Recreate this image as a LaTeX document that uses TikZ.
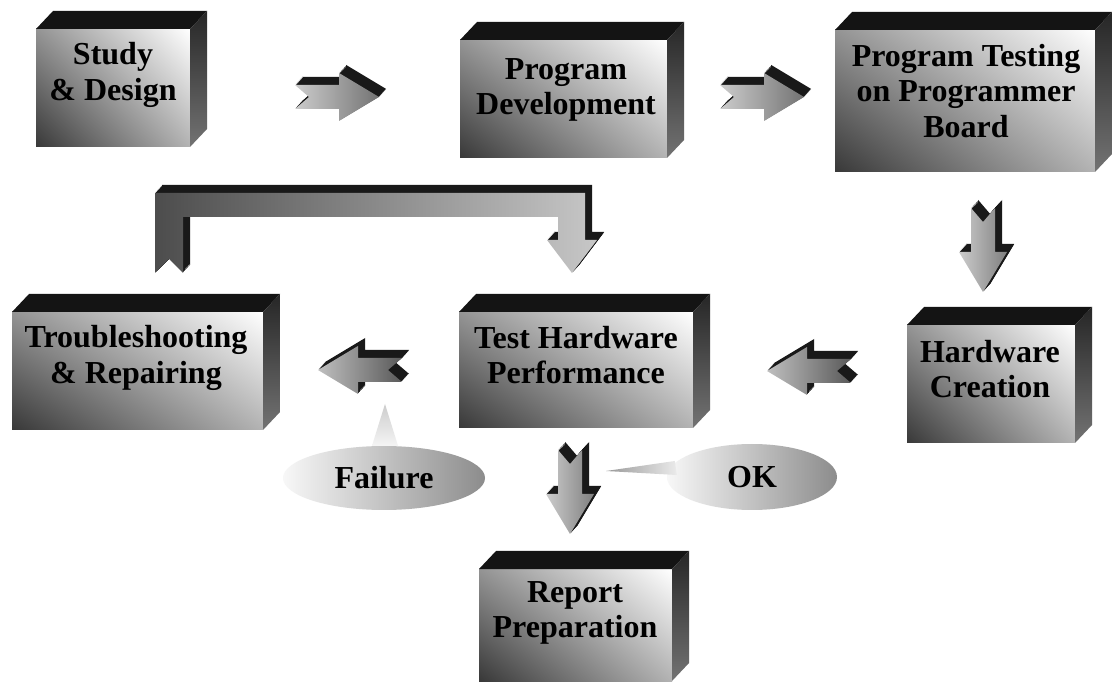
\documentclass[tikz,border=0pt]{standalone}
\usepackage{fontspec}
\setmainfont{Liberation Serif}
\usetikzlibrary{calc,shadings,shapes.geometric}

\tikzset{
  cube/.style={shade, shading=bilinear interpolation, lower left=black!78, upper left=black!42,
    upper right=white, lower right=black!30, inner sep=0pt, outer sep=0pt},
  cubetop/.style={fill=black!92},
  cubeside/.style={top color=black!85, bottom color=black!55},
  cubetext/.style={font=\bfseries\fontsize{32}{35.5}\selectfont, align=center, inner sep=0pt},
  arrowback/.style={fill=black!90},
  bubble/.style={ellipse, shade, left color=black!3, right color=black!45, inner sep=0pt,
    font=\bfseries\fontsize{32}{35.5}\selectfont},
}
\newcommand{\arrowpath}{(0,-12) -- (44,-12) -- (44,-24) -- (84,0) -- (44,24) -- (44,12) -- (0,12) -- (14,0) -- cycle}
\newcommand{\looppath}{(155,273) -- (155,193) -- (585,193) -- (585,240) -- (597,240) -- (572,273) -- (547,240)
  -- (558,240) -- (558,217) -- (183,217) -- (183,273) -- (169,259) -- cycle}
\newcommand{\blockarrow}[4]{%
  \foreach \s in {1,...,8}
    \fill[arrowback, shift={(#1+0.9*\s,#2-\s)}, rotate=#3] \arrowpath;
  \shade[#4, shift={(#1,#2)}, rotate=#3] \arrowpath;}

\begin{document}
\begin{tikzpicture}[x=1pt,y=-1pt]
\fill[white] (0,0) rectangle (1112,684);
\useasboundingbox (0,0) rectangle (1112,684);

% boxes
\node[cube, minimum width=154pt, minimum height=118pt] (study) at (113,88) {};
\node[cube, minimum width=207pt, minimum height=118pt] (dev) at (563.5,99) {};
\node[cube, minimum width=260pt, minimum height=142pt] (ptest) at (965,101) {};
\node[cube, minimum width=168pt, minimum height=118pt] (hwcreate) at (991,384) {};
\node[cube, minimum width=234pt, minimum height=116pt] (testhw) at (576,370) {};
\node[cube, minimum width=251pt, minimum height=118pt] (trouble) at (137.5,371) {};
\node[cube, minimum width=193pt, minimum height=112pt] (report) at (575.5,625) {};

\foreach \b in {study,dev,ptest,hwcreate,testhw,trouble,report}{
  \fill[cubetop] (\b.north west) -- ++(17,-18) -- ([shift={(17,-18)}]\b.north east) -- (\b.north east) -- cycle;
  \shade[cubeside] (\b.north east) -- ++(17,-18) -- ([shift={(17,-18)}]\b.south east) -- (\b.south east) -- cycle;
}

\node[cubetext] (studytext) at (113,75) {Study\\\& Design};
\node[cubetext] (devtext) at (566,90) {Program\\Development};
\node[cubetext] (ptesttext) at (966,91) {Program Testing\\on Programmer\\Board};
\node[cubetext] (hwcreatetext) at (990,369) {Hardware\\Creation};
\node[cubetext] (testhwtext) at (576,355) {Test Hardware\\Performance};
\node[cubetext] (troubletext) at (136,358) {Troubleshooting\\\& Repairing};
\node[cubetext] (reporttext) at (575,613) {Report\\Preparation};

% arrows
\blockarrow{295}{97}{0}{left color=black!20, right color=black!55}
\blockarrow{720}{97}{0}{left color=black!20, right color=black!55}
\blockarrow{983}{208}{-90}{left color=black!20, right color=black!50}
\blockarrow{851}{371}{180}{left color=black!25, right color=black!65}
\blockarrow{402}{370}{180}{left color=black!25, right color=black!65}
\blockarrow{570}{450}{-90}{left color=black!20, right color=black!50}

\foreach \s in {1,...,8}
  \fill[arrowback, shift={(0.9*\s,-\s)}] \looppath;
\shade[left color=black!70, right color=black!22] \looppath;

% callouts
\node[bubble, minimum width=202pt, minimum height=64pt] (failure) at (384,478) {Failure};
\node[bubble, minimum width=170pt, minimum height=66pt] (ok) at (752,477) {OK};
\shade[top color=black!20, bottom color=black!4] (385,404) -- ([xshift=14pt]failure.north) -- ([xshift=-12pt]failure.north) -- cycle;
\shade[left color=black!40, right color=black!8] (606,471) -- ([shift={(8,-16)}]ok.west) -- ([shift={(10,-2)}]ok.west) -- cycle;
\end{tikzpicture}
\end{document}
